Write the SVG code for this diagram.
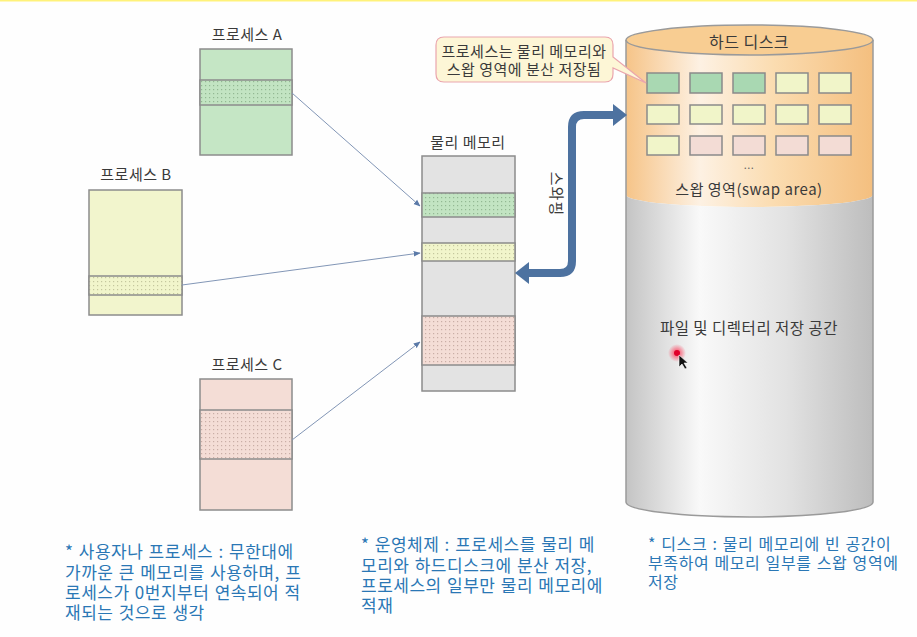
<svg xmlns="http://www.w3.org/2000/svg" width="917" height="637" viewBox="0 0 917 637">
<style>
.lbl{font-family:"Noto Sans CJK KR","Liberation Sans",sans-serif;font-size:15px;fill:#3a3a3a;letter-spacing:0.5px;}
.note{font-family:"Noto Sans CJK KR","Liberation Sans",sans-serif;font-size:17px;fill:#2a77b5;letter-spacing:0.5px;word-spacing:1px;}
.blk{stroke:#8c8c8c;stroke-width:1.5;}
.box{stroke:#8a8a8a;stroke-width:1.5;}
.thin{stroke:#8296b6;stroke-width:1;fill:none;marker-end:url(#ah);}
</style>
<defs>
<marker id="ah" viewBox="0 0 10 10" refX="9" refY="5" markerWidth="7" markerHeight="7" orient="auto">
<path d="M0,1 L10,5 L0,9 Z" fill="#5b7aa8"/>
</marker>
<pattern id="dotG" width="4" height="4" patternUnits="userSpaceOnUse"><rect width="4" height="4" fill="#c2e4c2"/><rect x="1" y="1" width="1.2" height="1.2" fill="#93b893"/></pattern>
<pattern id="dotY" width="4" height="4" patternUnits="userSpaceOnUse"><rect width="4" height="4" fill="#f1f5cb"/><rect x="1" y="1" width="1.2" height="1.2" fill="#c4c79d"/></pattern>
<pattern id="dotP" width="4" height="4" patternUnits="userSpaceOnUse"><rect width="4" height="4" fill="#f4ddd6"/><rect x="1" y="1" width="1.2" height="1.2" fill="#c9aea6"/></pattern>
<linearGradient id="orange" x1="0" y1="0" x2="1" y2="0">
<stop offset="0" stop-color="#f6c488"/><stop offset="0.3" stop-color="#fdf1e3"/><stop offset="0.6" stop-color="#fbdcb0"/><stop offset="1" stop-color="#f4bf7f"/>
</linearGradient>
<linearGradient id="gray" x1="0" y1="0" x2="1" y2="0">
<stop offset="0" stop-color="#c4c4c4"/><stop offset="0.3" stop-color="#f9f9f9"/><stop offset="0.65" stop-color="#e2e2e2"/><stop offset="1" stop-color="#bdbdbd"/>
</linearGradient>
<radialGradient id="glow"><stop offset="0" stop-color="#ff2a4a" stop-opacity="0.9"/><stop offset="1" stop-color="#ff2a4a" stop-opacity="0"/></radialGradient>
</defs>
<rect width="917" height="637" fill="#fefefe"/>
<rect x="0" y="0" width="917" height="1.5" fill="#fff27a"/>

<g id="processA">
<text class="lbl" x="247" y="40" text-anchor="middle">프로세스 A</text>
<rect class="blk" x="200" y="49" width="92" height="106" fill="#c5e6c5"/>
<rect class="blk" x="200" y="80" width="92" height="25" fill="url(#dotG)"/>
</g>
<g id="processB">
<text class="lbl" x="136" y="180" text-anchor="middle">프로세스 B</text>
<rect class="blk" x="89" y="190" width="93" height="125" fill="#f2f5cd"/>
<rect class="blk" x="89" y="276" width="93" height="19" fill="url(#dotY)"/>
</g>
<g id="processC">
<text class="lbl" x="247" y="370" text-anchor="middle">프로세스 C</text>
<rect class="blk" x="200" y="379" width="92" height="131" fill="#f4ddd6"/>
<rect class="blk" x="200" y="410" width="92" height="49" fill="url(#dotP)"/>
</g>
<g id="memory">
<text class="lbl" x="468" y="148" text-anchor="middle">물리 메모리</text>
<rect class="blk" x="422" y="156" width="93" height="235" fill="#e3e3e3"/>
<rect class="blk" x="422" y="193" width="93" height="24" fill="url(#dotG)"/>
<rect class="blk" x="422" y="243" width="93" height="18" fill="url(#dotY)"/>
<rect class="blk" x="422" y="316" width="93" height="49" fill="url(#dotP)"/>
</g>

<g id="disk">
<path d="M626,40 V195 A123.5,12 0 0 0 873,195 V40 Z" fill="url(#orange)"/>
<path d="M626,195 A123.5,12 0 0 0 873,195 V502 A123.5,15 0 0 1 626,502 Z" fill="url(#gray)"/>
<path d="M626,40 V502 A123.5,15 0 0 0 873,502 V40" fill="none" stroke="#9a9a9a" stroke-width="1.5"/>
<ellipse cx="749.5" cy="40" rx="123.5" ry="15" fill="#f8cd92" stroke="#9a9a9a" stroke-width="1.5"/>
<text class="lbl" x="749" y="48" text-anchor="middle" style="font-size:16px">하드 디스크</text>
<g class="box">
<rect x="647" y="73" width="32" height="20" fill="#a9d8b2"/>
<rect x="690" y="73" width="32" height="20" fill="#a9d8b2"/>
<rect x="733" y="73" width="32" height="20" fill="#a9d8b2"/>
<rect x="776" y="73" width="32" height="20" fill="#f1f5c9"/>
<rect x="819" y="73" width="32" height="20" fill="#f1f5c9"/>
<rect x="647" y="105" width="32" height="19" fill="#f1f5c9"/>
<rect x="690" y="105" width="32" height="19" fill="#f1f5c9"/>
<rect x="733" y="105" width="32" height="19" fill="#f1f5c9"/>
<rect x="776" y="105" width="32" height="19" fill="#f1f5c9"/>
<rect x="819" y="105" width="32" height="19" fill="#f1f5c9"/>
<rect x="647" y="136" width="32" height="19" fill="#f1f5c9"/>
<rect x="690" y="136" width="32" height="19" fill="#f3dcd5"/>
<rect x="733" y="136" width="32" height="19" fill="#f3dcd5"/>
<rect x="776" y="136" width="32" height="19" fill="#f3dcd5"/>
<rect x="819" y="136" width="32" height="19" fill="#f3dcd5"/>
</g>
<text class="lbl" x="749" y="169" text-anchor="middle" style="font-size:11px;fill:#666">...</text>
<text class="lbl" x="749" y="195" text-anchor="middle">스왑 영역(swap area)</text>
<text class="lbl" x="749" y="334" text-anchor="middle" style="font-size:15.5px">파일 및 디렉터리 저장 공간</text>
</g>

<g id="callout">
<path d="M444,37 H605 Q613,37 613,45 V57 L646,83 L613,68 V74 Q613,82 605,82 H444 Q436,82 436,74 V45 Q436,37 444,37 Z" fill="#fdf6d6" stroke="#eaa5ad" stroke-width="1.2"/>
<text class="lbl" x="524" y="57" text-anchor="middle">프로세스는 물리 메모리와</text>
<text class="lbl" x="524" y="75" text-anchor="middle">스왑 영역에 분산 저장됨</text>
</g>

<g id="connectors">
<line class="thin" x1="292" y1="93" x2="420" y2="206"/>
<line class="thin" x1="182" y1="285" x2="420" y2="253"/>
<line class="thin" x1="292" y1="440" x2="420" y2="342"/>
<path d="M527,273 H560 Q572,273 572,261 V127 Q572,115 584,115 H614" fill="none" stroke="#4d72a0" stroke-width="8"/>
<polygon points="515,273 529,262 529,284" fill="#4d72a0"/>
<polygon points="627,115 613,104 613,126" fill="#4d72a0"/>
<text class="lbl" x="0" y="0" transform="translate(551,194) rotate(90)" text-anchor="middle" style="letter-spacing:1px">스와핑</text>
</g>

<g id="cursor">
<circle cx="677" cy="353" r="9" fill="url(#glow)"/>
<circle cx="677" cy="353" r="3" fill="#e0002a"/>
<path d="M679,355 L679,367 L682,364 L685,369 L687,368 L684,363 L688,363 Z" fill="#111" stroke="#fff" stroke-width="0.6"/>
</g>

<g id="notes">
<text class="note"><tspan x="65" y="558">* 사용자나 프로세스 : 무한대에</tspan><tspan x="65" y="579">가까운 큰 메모리를 사용하며, 프</tspan><tspan x="65" y="599">로세스가 0번지부터 연속되어 적</tspan><tspan x="65" y="619">재되는 것으로 생각</tspan></text>
<text class="note"><tspan x="361" y="551">* 운영체제 : 프로세스를 물리 메</tspan><tspan x="361" y="572">모리와 하드디스크에 분산 저장,</tspan><tspan x="361" y="592">프로세스의 일부만 물리 메모리에</tspan><tspan x="361" y="612">적재</tspan></text>
<text class="note" style="font-size:16px;letter-spacing:0.6px;word-spacing:1px"><tspan x="648" y="550">* 디스크 : 물리 메모리에 빈 공간이</tspan><tspan x="648" y="569">부족하여 메모리 일부를 스왑 영역에</tspan><tspan x="648" y="588">저장</tspan></text>
</g>
</svg>
